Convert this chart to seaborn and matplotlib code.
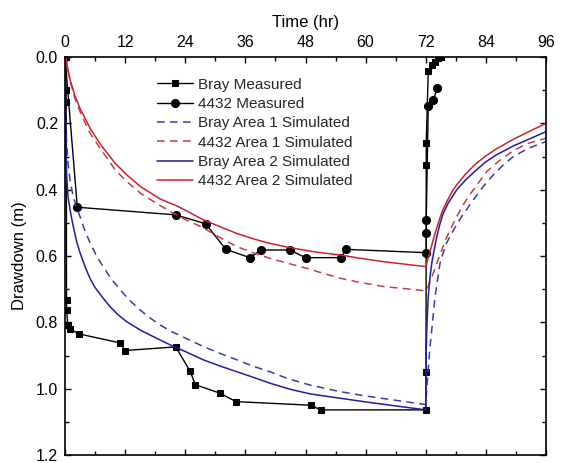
import matplotlib
matplotlib.use("Agg")
import matplotlib.pyplot as plt
import seaborn as sns
from matplotlib.ticker import MultipleLocator

# ---------------- data ----------------
bray_t = [0.1, 0.2, 0.25, 0.3, 0.34, 0.54, 1.0, 2.8, 11.0, 12.0, 22.1, 25.0, 26.0, 31.0, 34.1,
          49.1, 51.0, 72.0, 72.05, 72.1, 72.1, 72.5, 73.2, 73.9, 74.5, 75.0]
bray_d = [0.0, 0.10, 0.135, 0.733, 0.763, 0.808, 0.82, 0.835, 0.862, 0.885, 0.874, 0.948, 0.988,
          1.014, 1.039, 1.050, 1.064, 1.064, 0.95, 0.326, 0.26, 0.041, 0.024, 0.014, 0.004, 0.0]

w4432_t = [0.0, 2.46, 22.1, 28.1, 32.1, 36.9, 39.1, 44.9, 48.0, 55.1, 56.1, 72.1, 72.1, 72.1,
           72.5, 73.5, 74.3]
w4432_d = [0.0, 0.453, 0.476, 0.503, 0.580, 0.605, 0.582, 0.582, 0.605, 0.605, 0.580, 0.590,
           0.53, 0.49, 0.148, 0.130, 0.094]

bray_a1_t = [0, 0.1, 0.3, 0.6, 1.0, 1.5, 2.2, 3, 4, 5, 6.3, 7.6, 9.2, 11, 13, 15, 17, 19, 21, 23,
             25.5, 27.6, 31, 34.3, 37.5, 40.9, 44.5, 48.9, 54.9, 60, 66, 72,
             72.2, 72.5, 72.8, 73.2, 73.85, 74.85, 76, 77.6, 79.2, 81.5, 83.5, 85.5, 87.5, 89.5,
             92.5, 96]
bray_a1_d = [0, 0.12, 0.25, 0.32, 0.371, 0.41, 0.45, 0.481, 0.525, 0.56, 0.60, 0.632, 0.668, 0.702,
             0.735, 0.763, 0.787, 0.808, 0.826, 0.84, 0.858, 0.873, 0.894, 0.913, 0.932, 0.949,
             0.97, 0.989, 1.009, 1.022, 1.035, 1.048,
             1.0, 0.944, 0.88, 0.823, 0.723, 0.622, 0.565, 0.52, 0.48, 0.431, 0.39, 0.355, 0.325,
             0.30, 0.275, 0.255]

w4432_a1_t = [0, 0.2, 0.5, 1, 2, 3, 5, 7, 10, 12.3, 15, 17.6, 21, 24, 27.6, 31, 34.3, 37.5, 40.9,
              44.5, 48.2, 51.5, 54.9, 59, 63.5, 67.5, 72,
              72.4, 72.9, 73.5, 74.3, 75.2, 76.0, 76.9, 78.2, 79.5, 80.8, 82.5, 84.2, 86.5, 89.5,
              92.5, 96]
w4432_a1_d = [0, 0.005, 0.035, 0.072, 0.125, 0.165, 0.23, 0.275, 0.34, 0.375, 0.41, 0.435, 0.466,
              0.49, 0.515, 0.545, 0.572, 0.59, 0.607, 0.622, 0.637, 0.652, 0.667, 0.68, 0.692,
              0.698, 0.705,
              0.695, 0.675, 0.652, 0.618, 0.582, 0.55, 0.52, 0.481, 0.445, 0.415, 0.38, 0.345,
              0.315, 0.282, 0.26, 0.245]

bray_a2_t = [0, 0.1, 0.2, 0.33, 0.6, 1.0, 1.5, 2.3, 3, 4, 5, 6, 7.5, 9, 10.5, 12.3, 15, 17.6, 21,
             24, 27.6, 31, 34.3, 38, 41, 45, 49, 55, 60, 66, 72,
             72.05, 72.1, 72.2, 72.35, 72.5, 72.8, 73.2, 73.7, 74.2, 74.8, 75.5, 76.5, 78.2, 80,
             82, 84, 86, 89.5, 93, 96]
bray_a2_d = [0, 0.15, 0.28, 0.36, 0.42, 0.46, 0.50, 0.555, 0.59, 0.632, 0.668, 0.695, 0.725, 0.753,
             0.776, 0.798, 0.823, 0.843, 0.868, 0.888, 0.913, 0.932, 0.949, 0.968, 0.984, 1.002,
             1.016, 1.029, 1.04, 1.052, 1.064,
             0.95, 0.88, 0.823, 0.77, 0.723, 0.67, 0.622, 0.58, 0.542, 0.505, 0.471, 0.44, 0.40,
             0.37, 0.342, 0.316, 0.296, 0.268, 0.245, 0.225]

w4432_a2_t = [0, 0.2, 0.5, 1, 2, 3, 5, 7, 10, 12.3, 15, 19, 22.6, 25, 27.6, 31, 34.3, 37.5, 40.9,
              44, 46.9, 50, 54.9, 59, 63.5, 68, 72,
              72.3, 72.6, 73.2, 73.8, 74.5, 75.3, 76.3, 77.3, 78.2, 80, 82, 84, 86, 89.5, 93, 96]
w4432_a2_d = [0, 0.004, 0.03, 0.068, 0.118, 0.155, 0.215, 0.262, 0.32, 0.355, 0.39, 0.428, 0.451,
              0.47, 0.491, 0.512, 0.532, 0.548, 0.562, 0.572, 0.58, 0.588, 0.597, 0.607, 0.617,
              0.625, 0.632,
              0.615, 0.60, 0.568, 0.535, 0.50, 0.465, 0.433, 0.405, 0.385, 0.352, 0.322, 0.298,
              0.278, 0.248, 0.222, 0.20]

x_ticks = [0, 12, 24, 36, 48, 60, 72, 84, 96]
y_ticks = [0.0, 0.2, 0.4, 0.6, 0.8, 1.0, 1.2]

# ---------------- style ----------------
sns.set_theme(style="white")
plt.rcParams["font.family"] = ["Liberation Sans", "DejaVu Sans"]

BLUE = "#1e1ea0"
RED = "#d0202a"
BLUE_D = "#3a3aa8"
RED_D = "#cc3a40"

fig = plt.figure(figsize=(5.64, 4.63), dpi=100)
ax = fig.add_axes([65 / 564, 1 - 455 / 463, (546 - 65) / 564, (455 - 57) / 463])

common = dict(ax=ax, sort=False, estimator=None)
sns.lineplot(x=bray_t, y=bray_d, color="black", lw=1.0, marker="s", markersize=5,
             markeredgecolor="black", label="Bray Measured", **common)
sns.lineplot(x=w4432_t, y=w4432_d, color="black", lw=1.0, marker="o", markersize=5.8,
             markeredgecolor="black", label="4432 Measured", **common)
sns.lineplot(x=bray_a1_t, y=bray_a1_d, color=BLUE_D, lw=1.1, label="Bray Area 1 Simulated", **common)
sns.lineplot(x=w4432_a1_t, y=w4432_a1_d, color=RED_D, lw=1.1, label="4432 Area 1 Simulated", **common)
sns.lineplot(x=bray_a2_t, y=bray_a2_d, color=BLUE, lw=1.1, label="Bray Area 2 Simulated", **common)
sns.lineplot(x=w4432_a2_t, y=w4432_a2_d, color=RED, lw=1.1, label="4432 Area 2 Simulated", **common)

lines = ax.get_lines()
lines[2].set_dashes([5, 3.5])
lines[3].set_dashes([5, 3.5])

ax.set_xlim(0, 96)
ax.set_ylim(1.2, 0)
ax.set_xticks(x_ticks)
ax.set_yticks(y_ticks)
ax.set_xticklabels([str(v) for v in x_ticks])
ax.set_yticklabels([f"{v:.1f}" for v in y_ticks])
ax.xaxis.set_minor_locator(MultipleLocator(6))
ax.yaxis.set_minor_locator(MultipleLocator(0.1))

ax.xaxis.tick_top()
ax.xaxis.set_label_position("top")
ax.tick_params(which="both", direction="in", top=True, bottom=True, left=True, right=True,
               labeltop=True, labelbottom=False, labelleft=True, labelright=False,
               color="black", width=1.0)
ax.tick_params(which="major", length=4.5, labelsize=11.5, pad=5, labelcolor="black")
ax.tick_params(which="minor", length=3)

for s in ax.spines.values():
    s.set_color("black")
    s.set_linewidth(1.2)

ax.set_xlabel("Time (hr)", fontsize=12, labelpad=6, color="black")
ax.set_ylabel("Drawdown (m)", fontsize=12, labelpad=6, color="black")

ax.legend(loc="upper left", bbox_to_anchor=(0.168, 0.975), frameon=False, fontsize=11,
          handlelength=2.4, handletextpad=0.3, labelspacing=0.35, borderpad=0.2)

fig.savefig("out.png", dpi=100)
